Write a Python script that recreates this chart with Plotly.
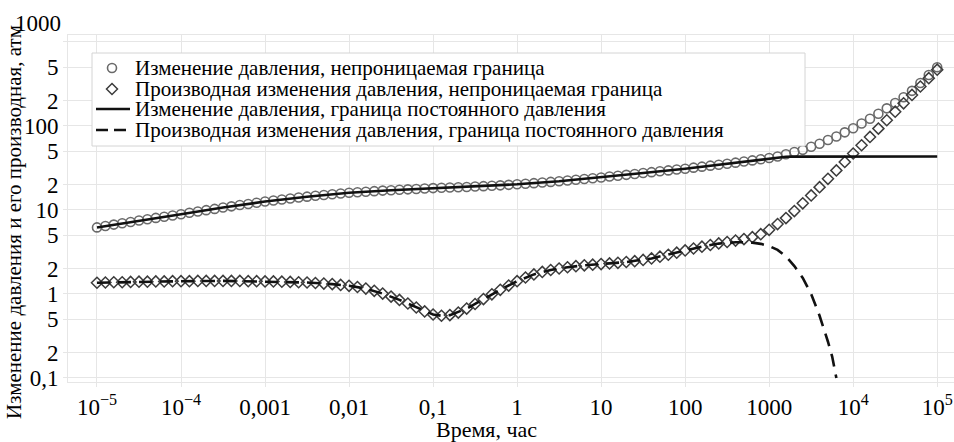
import plotly.graph_objects as go

# ---- data -------------------------------------------------------------
# pressure-test sampling grid: ten points per decade, 1e-5 ... 1e5 h
time_h = [10 ** (k / 10) for k in range(-50, 51)]

# pressure change, impermeable (closed) boundary, atm
dp_closed = [
    6.2, 6.45, 6.7, 6.95, 7.2, 7.5, 7.75, 8.05, 8.3, 8.6,
    8.9, 9.25, 9.6, 9.95, 10.3, 10.7, 11.05, 11.45, 11.8, 12.2,
    12.6, 12.95, 13.3, 13.7, 14.05, 14.4, 14.75, 15.05, 15.4, 15.7,
    16.0, 16.25, 16.5, 16.75, 17.0, 17.2, 17.4, 17.6, 17.8, 18.0,
    18.2, 18.35, 18.5, 18.65, 18.8, 19.0, 19.2, 19.45, 19.65, 19.9,
    20.2, 20.5, 20.85, 21.2, 21.6, 22.0, 22.45, 22.9, 23.4, 23.9,
    24.4, 25.0, 25.6, 26.2, 26.85, 27.5, 28.2, 28.9, 29.6, 30.3,
    31.0, 31.9, 32.8, 33.7, 34.6, 35.5, 36.6, 37.7, 38.9, 40.1,
    41.5, 43.3, 46.0, 49.0, 52.0, 56.5, 61.5, 68.0, 75.0, 84.0,
    94.0, 107.0, 122.0, 140.0, 162.0, 188.0, 220.0, 262.0, 325.0, 405.0,
    500.0,
]

# pressure derivative, impermeable boundary, atm
deriv_closed = [
    1.36, 1.37, 1.38, 1.38, 1.39, 1.40, 1.40, 1.41, 1.41, 1.42,
    1.42, 1.42, 1.43, 1.43, 1.43, 1.43, 1.43, 1.43, 1.42, 1.42,
    1.41, 1.41, 1.40, 1.39, 1.38, 1.37, 1.35, 1.33, 1.31, 1.28,
    1.25, 1.21, 1.16, 1.09, 1.01, 0.93, 0.85, 0.77, 0.69, 0.62,
    0.57, 0.55, 0.56, 0.60, 0.67, 0.76, 0.87, 0.99, 1.12, 1.26,
    1.42, 1.57, 1.71, 1.83, 1.93, 2.01, 2.08, 2.14, 2.19, 2.23,
    2.27, 2.31, 2.35, 2.40, 2.46, 2.54, 2.65, 2.78, 2.93, 3.10,
    3.30, 3.48, 3.66, 3.83, 4.00, 4.16, 4.32, 4.50, 4.75, 5.15,
    5.8, 6.8, 8.0, 9.7, 12.0, 14.9, 18.7, 23.5, 29.6, 37.3,
    47.0, 59.0, 74.0, 93.0, 117.0, 148.0, 186.0, 234.0, 295.0, 371.0,
    468.0,
]

# constant-pressure boundary: pressure change (solid line)
const_dp_log_t = [-5, -4.5, -4, -3.5, -3, -2.5, -2, -1.5, -1, -0.5, 0, 0.5,
                  1, 1.5, 2, 2.5, 2.6, 2.7, 2.8, 2.9, 3.0, 3.1, 3.2, 3.3,
                  3.5, 4, 5]
const_dp = [6.2, 7.5, 8.9, 10.7, 12.6, 14.4, 16.0, 17.2, 18.2, 19.0, 20.2,
            22.0, 24.4, 27.5, 31.0, 35.5, 36.6, 37.7, 38.9, 40.0, 41.3, 42.4,
            43.0, 43.2, 43.3, 43.3, 43.3]

# constant-pressure boundary: pressure derivative (dashed line)
const_deriv_log_t = [-5, -4.5, -4, -3.5, -3, -2.5, -2.2, -2.0, -1.8, -1.6,
                     -1.4, -1.2, -1.0, -0.9, -0.8, -0.6, -0.4, -0.2, 0.0, 0.2,
                     0.4, 0.6, 0.8, 1.0, 1.3, 1.6, 2.0, 2.2, 2.4, 2.5, 2.6,
                     2.7, 2.8, 2.9, 3.0, 3.1, 3.2, 3.3, 3.4, 3.5, 3.6, 3.7,
                     3.75, 3.8]
const_deriv = [1.36, 1.40, 1.42, 1.43, 1.41, 1.37, 1.31, 1.25, 1.16, 1.01,
               0.85, 0.69, 0.57, 0.55, 0.56, 0.67, 0.87, 1.12, 1.42, 1.71,
               1.93, 2.08, 2.19, 2.27, 2.40, 2.65, 3.30, 3.66, 3.98, 4.08,
               4.12, 4.12, 4.08, 3.95, 3.72, 3.35, 2.8, 2.15, 1.55, 1.0,
               0.55, 0.27, 0.18, 0.1]

series_names = [
    "Изменение давления, непроницаемая граница",
    "Производная изменения давления, непроницаемая граница",
    "Изменение давления, граница постоянного давления",
    "Производная изменения давления, граница постоянного давления",
]

x_tick_vals = [1e-5, 1e-4, 1e-3, 1e-2, 1e-1, 1, 10, 100, 1000, 1e4, 1e5]
x_tick_text = ["10<sup>−5</sup>", "10<sup>−4</sup>", "0,001", "0,01", "0,1",
               "1", "10", "100", "1000", "10<sup>4</sup>", "10<sup>5</sup>"]
y_tick_vals = [0.1, 0.2, 0.5, 1, 2, 5, 10, 20, 50, 100, 200, 500]
y_tick_text = ["0,1", "2", "5", "1", "2", "5", "10", "2", "5", "100", "2", "5"]
y_top_label = "1000"

x_title = "Время, час"
y_title = "Изменение давления и его производная, атм"

# ---- figure geometry (pixels) ----------------------------------------
W, H = 954, 442
ML, MR, MT, MB = 68, 0, 35, 60
PW, PH = W - ML - MR, H - MT - MB


def px(xp):
    return (xp - ML) / PW


def py(yp):
    return (H - MB - yp) / PH


FONT = "Liberation Serif, DejaVu Serif, Times New Roman, serif"
GRID = "#e6e6e6"
CIRCLE_COL = "#6a6a6a"
DIAMOND_COL = "#3c3c3c"
LINE_COL = "#111111"
DASH = "13px,8px"

fig = go.Figure()

fig.add_trace(go.Scatter(
    x=time_h, y=dp_closed, mode="markers", name=series_names[0],
    marker=dict(symbol="circle-open", size=9, color=CIRCLE_COL,
                line=dict(width=1.6, color=CIRCLE_COL)),
    showlegend=False))
fig.add_trace(go.Scatter(
    x=time_h, y=deriv_closed, mode="markers", name=series_names[1],
    marker=dict(symbol="diamond-open", size=8.5, color=DIAMOND_COL,
                line=dict(width=1.5, color=DIAMOND_COL)),
    showlegend=False))
fig.add_trace(go.Scatter(
    x=[10 ** e for e in const_dp_log_t], y=const_dp, mode="lines",
    name=series_names[2], line=dict(color=LINE_COL, width=2.6),
    showlegend=False))
fig.add_trace(go.Scatter(
    x=[10 ** e for e in const_deriv_log_t], y=const_deriv, mode="lines",
    name=series_names[3], line=dict(color=LINE_COL, width=2.6, dash=DASH),
    showlegend=False))

axis_common = dict(
    type="log", showgrid=True, gridcolor=GRID, gridwidth=1,
    showline=True, linecolor=GRID, linewidth=1, mirror=True,
    ticks="outside", ticklen=4, tickcolor=GRID, zeroline=False,
    tickfont=dict(family=FONT, size=23, color="#000"),
)

fig.update_xaxes(range=[-5.345, 5.2], tickmode="array",
                 tickvals=x_tick_vals, ticktext=x_tick_text, **axis_common)
fig.update_yaxes(range=[-1.048, 3.083], tickmode="array",
                 tickvals=y_tick_vals + [1000], ticktext=y_tick_text + [" "],
                 **axis_common)

# ---- legend box drawn as layout shapes/annotations -------------------
shapes = [
    dict(type="rect", xref="paper", yref="paper",
         x0=px(92), x1=px(805), y0=py(146), y1=py(53),
         fillcolor="white", line=dict(color="#d4d4d4", width=1), layer="above"),
    dict(type="circle", xref="paper", yref="paper", xsizemode="pixel",
         ysizemode="pixel", xanchor=px(112), yanchor=py(68),
         x0=-4.5, x1=4.5, y0=-4.5, y1=4.5,
         line=dict(color=CIRCLE_COL, width=1.6), layer="above"),
    dict(type="path", xref="paper", yref="paper", xsizemode="pixel",
         ysizemode="pixel", xanchor=px(112), yanchor=py(89),
         path="M0,5.5 L5.5,0 L0,-5.5 L-5.5,0 Z",
         line=dict(color=DIAMOND_COL, width=1.5), layer="above"),
    dict(type="line", xref="paper", yref="paper",
         x0=px(96), x1=px(130), y0=py(109), y1=py(109),
         line=dict(color=LINE_COL, width=2.6), layer="above"),
    dict(type="line", xref="paper", yref="paper",
         x0=px(96), x1=px(130), y0=py(130), y1=py(130),
         line=dict(color=LINE_COL, width=2.6, dash="12px,6px"), layer="above"),
]

annotations = []
for name, row_y in zip(series_names, [68, 89, 109, 130]):
    annotations.append(dict(
        text=name, xref="paper", yref="paper", x=px(133), y=py(row_y),
        xanchor="left", yanchor="middle", showarrow=False,
        font=dict(family=FONT, size=21, color="#000")))

annotations += [
    dict(text=y_top_label, xref="paper", yref="paper", x=px(63), y=py(23),
         xanchor="right", yanchor="middle", showarrow=False,
         font=dict(family=FONT, size=23, color="#000")),
    dict(text=y_title, xref="paper", yref="paper", x=px(14), y=py(222),
         xanchor="center", yanchor="middle", textangle=-90, showarrow=False,
         font=dict(family=FONT, size=21, color="#000")),
    dict(text=x_title, xref="paper", yref="paper", x=px(486), y=py(429),
         xanchor="center", yanchor="middle", showarrow=False,
         font=dict(family=FONT, size=22, color="#000")),
]

fig.update_layout(
    width=W, height=H,
    margin=dict(l=ML, r=MR, t=MT, b=MB),
    paper_bgcolor="white", plot_bgcolor="white",
    font=dict(family=FONT, color="#000"),
    shapes=shapes, annotations=annotations, showlegend=False,
)

fig.write_html("out.html")
